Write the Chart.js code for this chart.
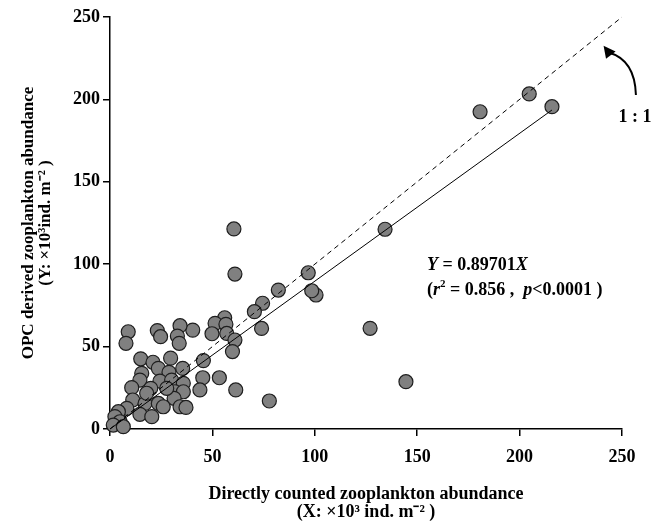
<!DOCTYPE html>
<html>
<head>
<meta charset="utf-8">
<script src="https://cdn.jsdelivr.net/npm/chart.js@4.4.1/dist/chart.umd.min.js"></script>
<style>
  html, body { margin: 0; padding: 0; background: #fff; }
  #wrap { width: 654px; height: 521px; }
</style>
</head>
<body>
<div id="wrap"><canvas id="c" width="654" height="521"></canvas></div>
<script>
// Directly counted abundance (X, x10^3 ind. m^-2)
const directCounted = [
  215.8, 204.7, 180.7, 144.5, 134.3, 127.0, 100.6, 98.5, 96.8, 82.2,
  77.8, 74.5, 70.5, 74.0, 60.5, 61.0, 56.0, 51.3, 56.6, 49.8,
  57.0, 61.0, 59.8, 40.4, 45.6, 8.9, 7.8, 23.1, 24.7, 34.2,
  32.9, 33.8, 15.0, 21.0, 29.6, 23.6, 28.8, 35.5, 15.5, 14.6,
  24.4, 30.1, 35.8, 10.6, 19.9, 31.7, 35.8, 11.1, 17.1, 23.6,
  31.3, 34.2, 37.1, 8.2, 14.6, 20.4, 4.1, 2.4, 4.9, 1.6,
  6.5, 45.3, 53.4, 43.9, 61.4, 27.7, 17.9, 26.0
];
// OPC derived abundance (Y, x10^3 ind. m^-2)
const opcDerived = [
  195.6, 203.3, 192.5, 28.7, 121.2, 61.1, 81.3, 83.9, 94.8, 84.3,
  17.0, 76.3, 71.2, 61.0, 121.4, 94.0, 67.5, 64.1, 63.5, 57.8,
  58.0, 54.0, 47.0, 60.0, 41.5, 59.0, 52.0, 59.7, 56.0, 62.7,
  56.4, 52.0, 42.6, 40.5, 43.0, 36.8, 34.4, 36.8, 33.8, 29.7,
  29.1, 29.7, 27.7, 25.1, 24.7, 22.6, 22.6, 17.6, 15.5, 15.5,
  18.6, 13.5, 13.1, 12.5, 8.9, 7.5, 10.5, 7.5, 4.4, 2.4,
  1.4, 31.1, 31.1, 23.7, 23.7, 24.7, 21.7, 13.5
];
const axisTicks = [0, 50, 100, 150, 200, 250];
const regressionSlope = 0.89701;
const regressionRange = [0, 215.8];
const oneToOneRange = [0, 250];

const points = directCounted.map((x, i) => ({ x: x, y: opcDerived[i] }));
const regLine = regressionRange.map(x => ({ x: x, y: regressionSlope * x }));
const idLine = oneToOneRange.map(x => ({ x: x, y: x }));

const SERIF = '"Liberation Serif", "Times New Roman", serif';

function drawRich(ctx, segs, x, y, size) {
  let cx = x;
  segs.forEach(s => {
    const fs = s.sup ? Math.round(size * 0.62) : size;
    ctx.font = (s.i ? 'italic ' : '') + 'bold ' + fs + 'px ' + SERIF;
    ctx.fillText(s.t, cx, s.sup ? y - size * 0.32 : y);
    cx += ctx.measureText(s.t).width;
  });
}

const annot = {
  id: 'annot',
  afterDatasetsDraw(chart) {
    const { ctx, scales: { x: sx, y: sy } } = chart;
    ctx.save();
    ctx.fillStyle = '#000';
    ctx.textBaseline = 'middle';
    ctx.textAlign = 'left';
    const ex = sx.getPixelForValue(154.8);
    drawRich(ctx, [{ t: 'Y', i: true }, { t: ' = 0.89701' }, { t: 'X', i: true }], ex, sy.getPixelForValue(99.5), 18);
    drawRich(ctx, [{ t: '(' }, { t: 'r', i: true }, { t: '2', sup: true }, { t: ' = 0.856 ,  ' }, { t: 'p', i: true }, { t: '<0.0001 )' }], ex, sy.getPixelForValue(84.3), 18);
    // 1 : 1 label
    ctx.textAlign = 'center';
    ctx.font = 'bold 18px ' + SERIF;
    ctx.fillText('1 : 1', sx.getPixelForValue(256.3), sy.getPixelForValue(189.3));
    // curved arrow
    const x0 = sx.getPixelForValue(256.8), y0 = sy.getPixelForValue(202.7);
    const xc = sx.getPixelForValue(256.3), yc = sy.getPixelForValue(224);
    const x1 = sx.getPixelForValue(243.5), y1 = sy.getPixelForValue(228.5);
    ctx.strokeStyle = '#000';
    ctx.lineWidth = 2;
    ctx.beginPath();
    ctx.moveTo(x0, y0);
    ctx.quadraticCurveTo(xc, yc, x1, y1);
    ctx.stroke();
    const tx = sx.getPixelForValue(241.0), ty = sy.getPixelForValue(232.6);
    const ang = Math.atan2(ty - y1, tx - x1);
    const L = 12, W = 6;
    const bx = tx - L * Math.cos(ang), by = ty - L * Math.sin(ang);
    ctx.beginPath();
    ctx.moveTo(tx, ty);
    ctx.lineTo(bx + W * Math.sin(ang), by - W * Math.cos(ang));
    ctx.lineTo(bx - W * Math.sin(ang), by + W * Math.cos(ang));
    ctx.closePath();
    ctx.fillStyle = '#000';
    ctx.fill();
    ctx.restore();
  }
};

new Chart(document.getElementById('c'), {
  type: 'scatter',
  data: {
    datasets: [
      {
        label: 'Y = 0.89701X',
        type: 'line',
        data: regLine,
        borderColor: '#000',
        borderWidth: 1,
        pointRadius: 0,
        fill: false,
        order: 0,
        clip: false
      },
      {
        label: '1 : 1',
        type: 'line',
        data: idLine,
        borderColor: '#000',
        borderWidth: 1,
        borderDash: [5, 4],
        pointRadius: 0,
        fill: false,
        order: 0,
        clip: false
      },
      {
        label: 'Samples',
        data: points,
        pointRadius: 7,
        pointHoverRadius: 7,
        backgroundColor: '#808080',
        borderColor: '#1e1e1e',
        borderWidth: 1.2,
        order: 1,
        clip: false
      }
    ]
  },
  options: {
    responsive: false,
    animation: false,
    devicePixelRatio: 1,
    layout: { padding: { left: 0, right: 32, top: 17, bottom: 0 } },
    plugins: { legend: { display: false }, tooltip: { enabled: false } },
    scales: {
      x: {
        type: 'linear',
        min: 0, max: 250,
        afterBuildTicks(s) { s.ticks = axisTicks.map(v => ({ value: v })); },
        afterFit(s) { s.height = 92; },
        ticks: { color: '#000', padding: 11, font: { family: SERIF, size: 18, weight: 'bold' } },
        grid: { drawOnChartArea: false, drawTicks: true, tickLength: 7, color: '#000', lineWidth: 1.5 },
        border: { display: true, color: '#000', width: 1.5 },
        title: {
          display: true,
          text: ['Directly counted zooplankton abundance', '(X: \u00d710\u00b3 ind. m\u207b\u00b2 )'],
          color: '#000',
          font: { family: SERIF, size: 18, weight: 'bold', lineHeight: 1.0 },
          padding: { top: 0, bottom: 0 }
        }
      },
      y: {
        type: 'linear',
        min: 0, max: 250,
        afterBuildTicks(s) { s.ticks = axisTicks.map(v => ({ value: v })); },
        afterFit(s) { s.width = 110; },
        ticks: { color: '#000', padding: 3, font: { family: SERIF, size: 18, weight: 'bold' } },
        grid: { drawOnChartArea: false, drawTicks: true, tickLength: 7, color: '#000', lineWidth: 1.5 },
        border: { display: true, color: '#000', width: 1.5 },
        title: {
          display: true,
          text: ['OPC derived zooplankton abundance', '(Y: \u00d710\u00b3ind. m\u207b\u00b2 )'],
          color: '#000',
          font: { family: SERIF, size: 17, weight: 'bold', lineHeight: 1.02 },
          padding: { top: 20, bottom: 0 }
        }
      }
    }
  },
  plugins: [annot]
});
</script>
</body>
</html>
